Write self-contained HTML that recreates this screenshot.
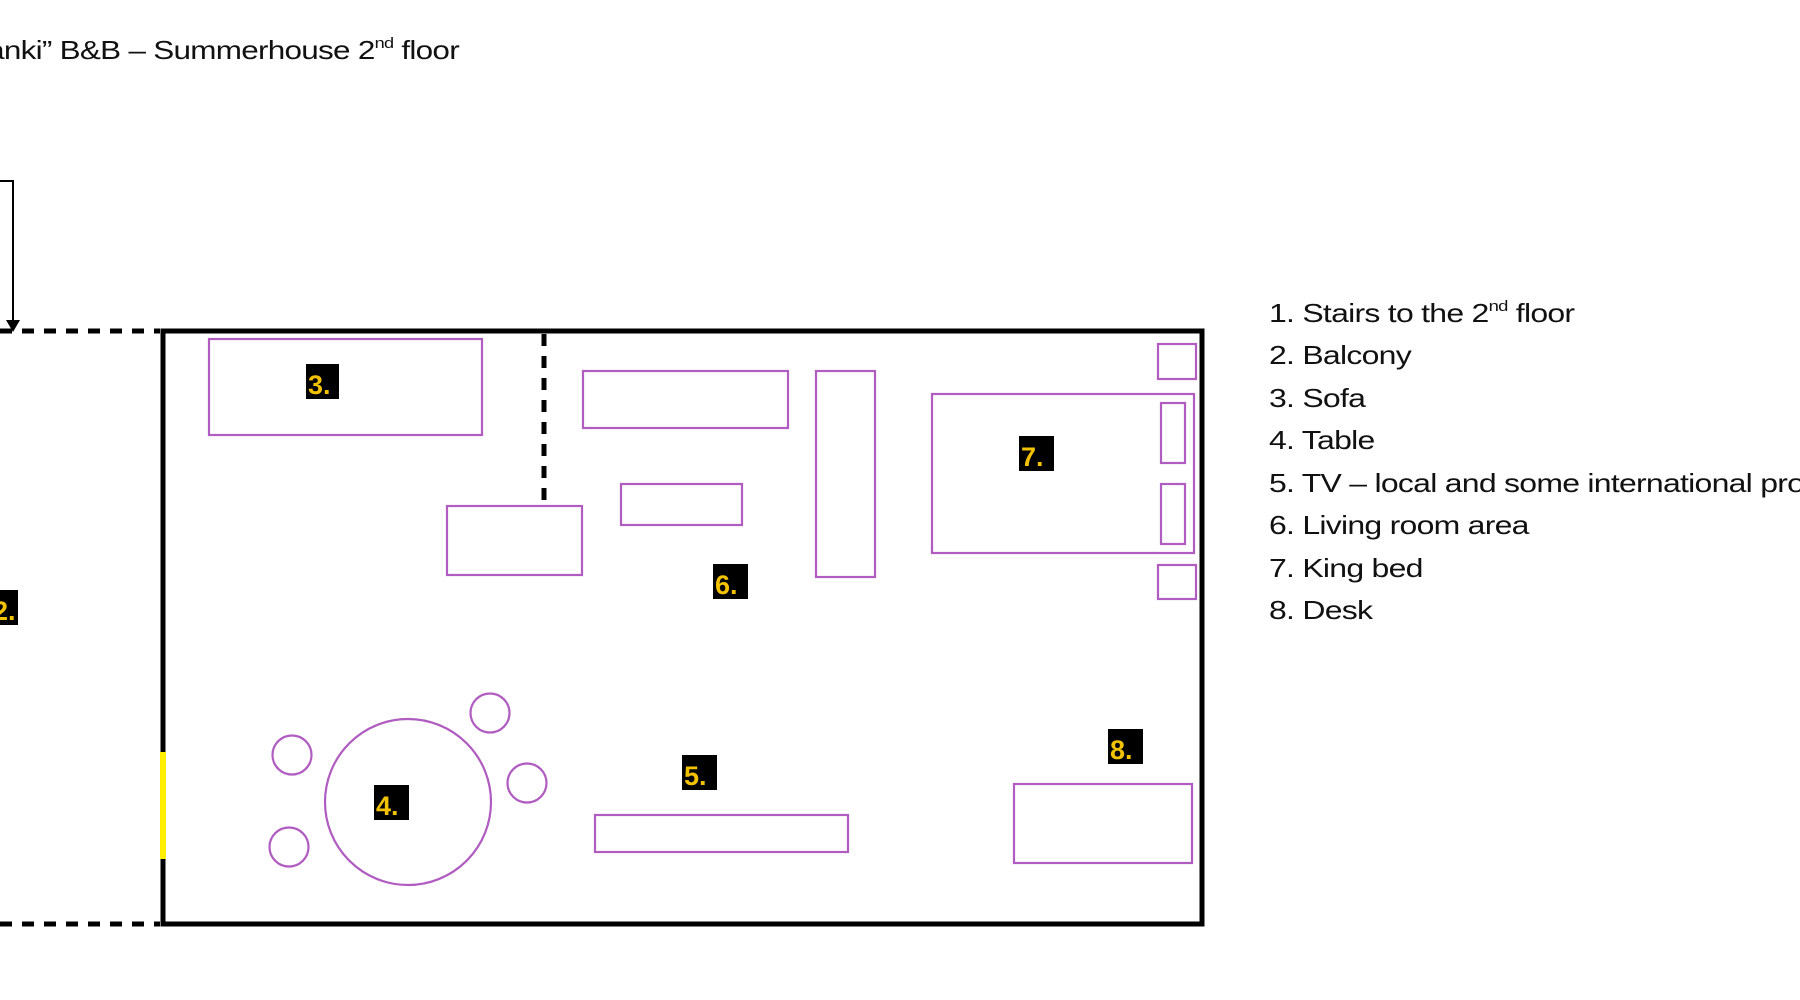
<!DOCTYPE html>
<html><head><meta charset="utf-8"><style>
html,body{margin:0;padding:0;background:#fff;}
body{width:1800px;height:1000px;position:relative;overflow:hidden;font-family:"Liberation Sans",sans-serif;color:#111;}
.t{position:absolute;white-space:nowrap;font-size:26px;letter-spacing:-0.6px;}
.l{transform:scaleX(1.23);transform-origin:left center;}
sup{font-size:15px;vertical-align:0;position:relative;top:-11px;}
</style></head><body>
<div class="t" style="right:1341px;top:35px;transform:scaleX(1.21);transform-origin:right center;">“Planki” B&amp;B – Summerhouse 2<sup>nd</sup> floor</div>
<svg width="1800" height="1000" style="position:absolute;left:0;top:0" xmlns="http://www.w3.org/2000/svg">
<g fill="none" stroke="#000">
<line x1="0" y1="331" x2="160" y2="331" stroke-width="5" stroke-dasharray="12,10"/>
<line x1="0" y1="924" x2="160" y2="924" stroke-width="5" stroke-dasharray="12,10"/>
<polyline points="0,181 13,181 13,322" stroke-width="2"/>
<rect x="163" y="331" width="1039" height="593" stroke-width="5"/>
<line x1="544" y1="334" x2="544" y2="506" stroke-width="5" stroke-dasharray="12,10"/>
</g>
<polygon points="6,320 20,320 13,332" fill="#000"/>
<line x1="163" y1="752" x2="163" y2="859" stroke="#ffee00" stroke-width="6"/>
<g fill="none" stroke="#b05cc0" stroke-width="2.2">
<rect x="209" y="339" width="273" height="96"/>
<rect x="447" y="506" width="135" height="69"/>
<rect x="583" y="371" width="205" height="57"/>
<rect x="621" y="484" width="121" height="41"/>
<rect x="816" y="371" width="59" height="206"/>
<rect x="932" y="394" width="262" height="159"/>
<rect x="1158" y="344" width="38" height="35"/>
<rect x="1161" y="403" width="24" height="60"/>
<rect x="1161" y="484" width="24" height="60"/>
<rect x="1158" y="565" width="38" height="34"/>
<rect x="595" y="815" width="253" height="37"/>
<rect x="1014" y="784" width="178" height="79"/>
<circle cx="408" cy="802" r="83"/>
<circle cx="292" cy="755" r="19.5"/>
<circle cx="490" cy="713" r="19.5"/>
<circle cx="527" cy="783" r="19.5"/>
<circle cx="289" cy="847" r="19.5"/>
</g>
<g font-family="Liberation Sans, sans-serif" font-size="27" font-weight="bold" fill="#f2c200">
<rect x="306" y="364" width="33" height="35" fill="#000"/><text x="308" y="394">3.</text>
<rect x="1019" y="436" width="35" height="35" fill="#000"/><text x="1021" y="466">7.</text>
<rect x="713" y="564" width="35" height="35" fill="#000"/><text x="715" y="594">6.</text>
<rect x="682" y="755" width="35" height="35" fill="#000"/><text x="684" y="785">5.</text>
<rect x="374" y="785" width="35" height="35" fill="#000"/><text x="376" y="815">4.</text>
<rect x="1108" y="729" width="35" height="35" fill="#000"/><text x="1110" y="759">8.</text>
<rect x="-17" y="590" width="35" height="35" fill="#000"/><text x="-7" y="620">2.</text>
</g>
</svg>
<div class="t l" style="left:1269px;top:298px;">1. Stairs to the 2<sup>nd</sup> floor</div>
<div class="t l" style="left:1269px;top:340px;">2. Balcony</div>
<div class="t l" style="left:1269px;top:383px;">3. Sofa</div>
<div class="t l" style="left:1269px;top:425px;">4. Table</div>
<div class="t l" style="left:1269px;top:468px;">5. TV – local and some international programs</div>
<div class="t l" style="left:1269px;top:510px;">6. Living room area</div>
<div class="t l" style="left:1269px;top:553px;">7. King bed</div>
<div class="t l" style="left:1269px;top:595px;">8. Desk</div>
</body></html>
